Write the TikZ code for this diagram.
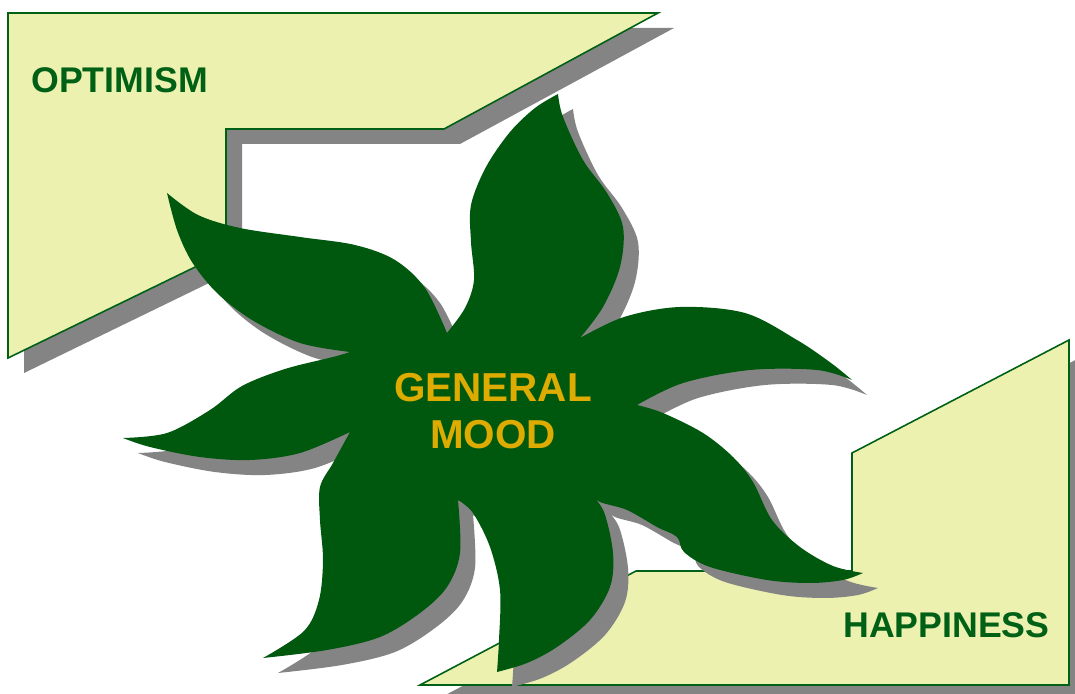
\documentclass[tikz,border=0pt]{standalone}
\usepackage{fontspec}
\setmainfont{Liberation Sans}

\definecolor{panelfill}{RGB}{237,241,176}
\definecolor{panelline}{RGB}{0,96,22}
\definecolor{stargreen}{RGB}{0,88,14}
\definecolor{moodgold}{RGB}{222,172,0}
\definecolor{shadowgray}{RGB}{132,132,132}

\begin{document}
\begin{tikzpicture}[
  x=.2mm, y=-.2mm,
  panel/.style={fill=panelfill, draw=panelline, line width=.9pt, line join=miter,
    preaction={fill=shadowgray, draw=none, transform canvas={shift={(16,15)}}}},
  petals/.style={fill=stargreen,
    preaction={fill=shadowgray, transform canvas={shift={(15,15)}}}},
  edge/.style={smooth, tension=.55},
  paneltext/.style={font=\bfseries\fontsize{20.3pt}{24pt}\selectfont, text=panelline, inner sep=0pt},
  moodtext/.style={font=\bfseries\fontsize{23pt}{26.7pt}\selectfont, text=moodgold,
    inner sep=0pt, align=center}
]
  \useasboundingbox[fill=white] (0,0) rectangle (1075,694);

  % Upper-left panel and lower-right panel, each with an offset grey shadow.
  \path[panel] (8,13) -- (658,13) -- (444,129) -- (226,129) -- (226,252) -- (8,358) -- cycle;
  \path[panel] (420,685) -- (636,571) -- (852,571) -- (852,453) -- (1069,340) -- (1069,685) -- cycle;

  \node[paneltext, anchor=base west] (optimism) at (31,93) {OPTIMISM};
  \node[paneltext, anchor=base west] (happiness) at (843,637) {HAPPINESS};

  % Seven curved petals, traced tip to notch in one closed outline.
  \path[petals]
    plot[edge] coordinates {(447,333) (465,308) (474,280) (471,242) (471,205) (486,167) (510,132) (535,108) (558,94)}
    -- plot[edge] coordinates {(558,94) (563,117) (583,160) (607,193) (623,227) (620,267) (603,307) (580,338)}
    -- plot[edge] coordinates {(580,338) (624,317) (680,307) (745,313) (797,340) (831,363) (852,380)}
    -- plot[edge] coordinates {(852,380) (817,370) (750,370) (683,383) (637,405)}
    -- plot[edge] coordinates {(637,405) (663,413) (703,433) (733,457) (753,482) (772,520) (800,547) (833,566) (863,573)}
    -- plot[edge] coordinates {(863,573) (843,580) (810,583) (767,580) (710,567) (684,552) (677,537) (657,527) (627,510) (600,502) (590,493)}
    -- plot[edge] coordinates {(590,493) (604,512) (613,553) (610,587) (590,620) (557,647) (527,663) (497,672)}
    -- plot[edge] coordinates {(497,672) (499,640) (500,590) (490,547) (473,513) (458,500)}
    -- plot[edge] coordinates {(458,500) (460,553) (447,587) (420,613) (380,637) (327,650) (263,658)}
    -- plot[edge] coordinates {(263,658) (304,631) (319,600) (323,560) (320,520) (320,487) (333,463) (350,432)}
    -- plot[edge] coordinates {(350,432) (300,453) (250,460) (200,457) (150,447) (123,438)}
    -- plot[edge] coordinates {(123,438) (167,433) (210,410) (242,386) (285,369) (333,357) (350,352)}
    -- plot[edge] coordinates {(350,352) (300,343) (252,320) (217,293) (192,262) (177,230) (167,193)}
    -- plot[edge] coordinates {(167,193) (198,215) (240,228) (300,237) (355,245) (395,260) (425,288) (447,333)}
    -- cycle;

  \node[moodtext] (mood) at (493,411) {GENERAL\\MOOD};
\end{tikzpicture}
\end{document}
